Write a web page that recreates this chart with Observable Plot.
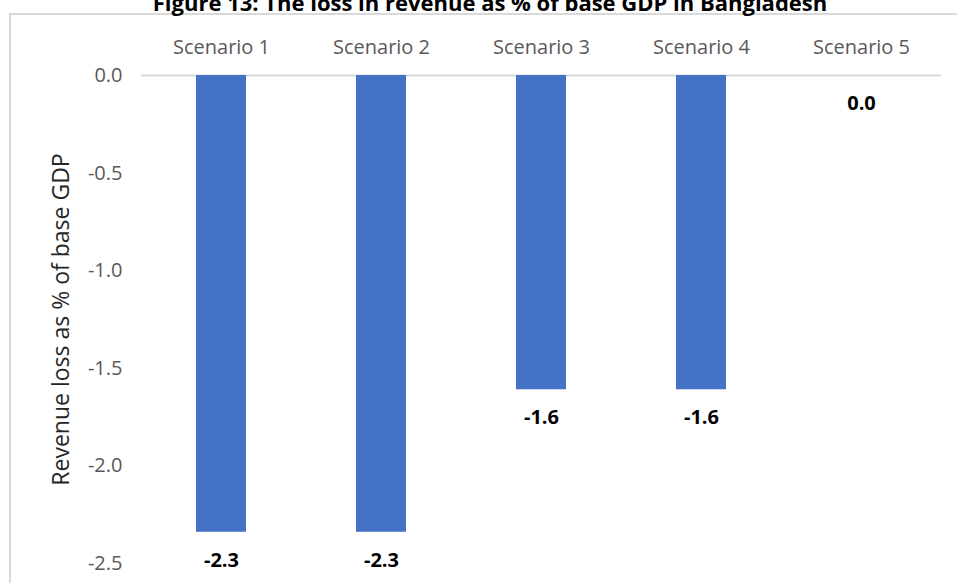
<!DOCTYPE html>
<html>
<head>
<meta charset="utf-8">
<script src="https://cdn.jsdelivr.net/npm/d3@7"></script>
<script src="https://cdn.jsdelivr.net/npm/@observablehq/plot@0.6"></script>
<style>
  html, body { margin: 0; padding: 0; background: #fff; overflow: hidden; }
  #wrap { position: relative; width: 957px; height: 583px; overflow: hidden; font-family: "Open Sans", sans-serif; }
  #frame { position: absolute; left: 9px; top: 13px; width: 1000px; height: 1000px;
           border-left: 2px solid #d9d9d9; border-top: 2px solid #d9d9d9; }
  #title { position: absolute; left: 0; width: 980px; top: -8px; text-align: center;
           font-size: 22px; line-height: 20px; font-weight: bold; color: #000; }
  #chart { position: absolute; left: 0; top: 0; }
</style>
</head>
<body>
<div id="wrap">
  <div id="frame"></div>
  <div id="title">Figure 13: The loss in revenue as % of base GDP in Bangladesh</div>
  <div id="chart"></div>
</div>
<script>
// Revenue loss (% of base GDP) under each scenario
const scenarios = ["Scenario 1", "Scenario 2", "Scenario 3", "Scenario 4", "Scenario 5"];
const revenueLoss = [-2.34, -2.34, -1.61, -1.61, 0.0];
const yTicks = [0, -0.5, -1.0, -1.5, -2.0, -2.5];
const yLabel = "Revenue loss as % of base GDP";

const rows = scenarios.map((s, i) => ({scenario: s, value: revenueLoss[i]}));
const fmt = d => (Math.abs(d) < 1e-9 ? 0 : d).toFixed(1);

const chart = Plot.plot({
  width: 957,
  height: 583,
  marginTop: 75,
  marginBottom: 20,
  marginLeft: 141,
  marginRight: 16,
  style: {fontFamily: "'Open Sans', sans-serif", background: "transparent"},
  x: {domain: scenarios, paddingInner: 0.686, paddingOuter: 0.343, axis: null},
  y: {domain: [-2.5, 0], axis: null},
  marks: [
    Plot.ruleY([0], {stroke: "#d9d9d9", strokeWidth: 2}),
    Plot.axisX({
      anchor: "top", tickSize: 0, tickPadding: 22, label: null,
      fontSize: 20, color: "#595959"
    }),
    Plot.axisY({
      ticks: yTicks, tickFormat: fmt, tickSize: 0, tickPadding: 19,
      label: null, fontSize: 20, color: "#595959"
    }),
    Plot.barY(rows, {x: "scenario", y: "value", fill: "#4472c4"}),
    Plot.text(rows, {
      x: "scenario", y: "value", text: d => fmt(d.value), dy: 28,
      fontSize: 20, fontWeight: "bold", fill: "#000"
    }),
    Plot.text([yLabel], {
      frameAnchor: "left", textAnchor: "middle", dx: -80, rotate: -90,
      fontSize: 23, fill: "#262626"
    })
  ]
});

document.getElementById("chart").appendChild(chart);
</script>
</body>
</html>
